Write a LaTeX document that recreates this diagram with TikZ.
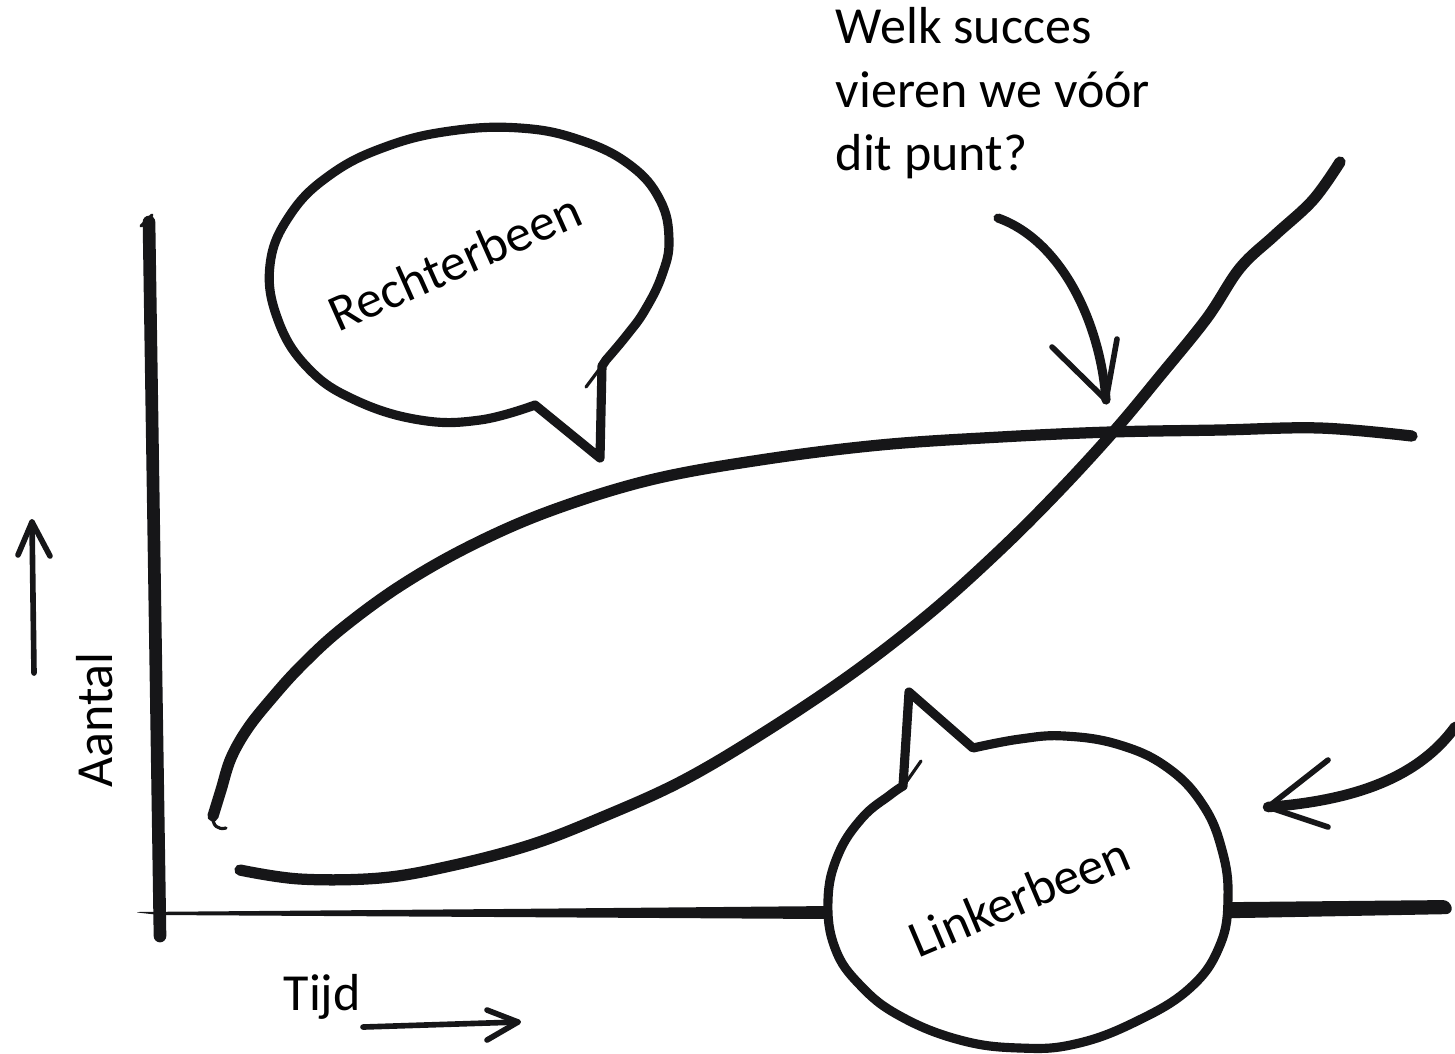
\documentclass[tikz,border=0pt]{standalone}
\usepackage{fontspec}
\setmainfont{Carlito}
\usepackage{tikz}
\usetikzlibrary{positioning}
\definecolor{inkcol}{RGB}{22,22,24}

\begin{document}
\begin{tikzpicture}[
x=0.01cm, y=-0.01cm,
ink/.style={draw=inkcol, line cap=round, line join=round},
axisline/.style={ink, line width=3.6pt},
growth/.style={ink, line width=3.2pt},
bubble/.style={ink, fill=white, line width=2.6pt},
pointer/.style={ink, line width=2.6pt},
barb/.style={ink, line width=1.6pt},
sketch/.style={ink, line width=0.9pt},
txt/.style={font=\fontsize{14.8}{17}\selectfont, inner sep=0pt},
]
\useasboundingbox (0,0) rectangle (1455,1053);

\draw[axisline] (149,222) -- (160,936);
\draw[sketch] (141,226) -- (152,215);
\fill[inkcol, rounded corners=2pt] (133,912) -- (500,909) -- (830,906) -- (1240,902) -- (1450,900)
  -- (1453,914) -- (1240,918) -- (830,919) -- (500,917) -- (160,915) -- cycle;

\draw[growth] plot[smooth, tension=0.6] coordinates {(213,816) (221,790) (231,758) (248,728) (272,698)
  (300,667) (340,630) (400,586) (470,546) (550,511) (650,480) (760,460) (880,445) (1000,437)
  (1110,432) (1220,430) (1320,428) (1412,436)};
\draw[sketch] (213,815) .. controls (212,826) and (218,830) .. (226,828);

\draw[growth] plot[smooth, tension=0.6] coordinates {(240,870) (300,879) (380,878) (450,866)
  (530,845) (600,818) (680,782) (760,735) (850,675) (930,613) (1000,550) (1060,490) (1115,430)
  (1160,376) (1207,318) (1240,268) (1275,235) (1313,200) (1340,162)};

\draw[bubble] plot[smooth, tension=0.7] coordinates {(606,360) (627,335) (645,310) (662,275) (669,240)
  (660,200) (630,165) (580,140) (520,128) (450,131) (385,147) (330,175) (290,215) (270,265)
  (278,320) (308,368) (355,400) (420,420) (480,420) (535,405)} -- (600,458) -- (602,366) -- cycle;
\draw[sketch] (586,387) -- (601,367);

\draw[bubble] plot[smooth, tension=0.7] coordinates {(973,748) (1020,739) (1065,736) (1120,745)
  (1168,768) (1203,805) (1222,850) (1228,897) (1220,945) (1190,988) (1135,1022) (1075,1044)
  (1020,1048) (960,1040) (900,1016) (860,985) (835,948) (828,900) (838,855) (862,818) (890,795)
  (903,786)} -- (909,692) -- cycle;
\draw[sketch] (921,761) -- (907,781);

\node at (462,278) [txt, anchor=base, rotate=24](rechter){Rechterbeen};
\node at (1026,913) [txt, anchor=base, rotate=23](linker){Linkerbeen};

\node at (835,43) [txt, anchor=base west](q1){Welk succes};
\node at (835,107) [txt, anchor=base west](q2){vieren we vóór};
\node at (835,170) [txt, anchor=base west](q3){dit punt?};

\draw[pointer] (998,218) .. controls (1060,240) and (1100,320) .. (1106,400);
\draw[barb] (1052,347) -- (1106,400) -- (1117,339);

\draw[pointer, line width=3pt] (1455,727) .. controls (1420,775) and (1360,800) .. (1268,807);
\draw[barb] (1328,760) -- (1268,807) -- (1328,827);

\node at (112,720) [txt, anchor=base, rotate=90](aantal){Aantal};
\draw[barb] (34,673) -- (32,522);
\draw[barb] (18,555) -- (32,522) -- (50,556);

\node at (283,1010) [txt, anchor=base west](tijd){Tijd};
\draw[barb] (363,1027) -- (518,1022);
\draw[barb] (487,1010) -- (518,1022) -- (487,1040);

\end{tikzpicture}
\end{document}
